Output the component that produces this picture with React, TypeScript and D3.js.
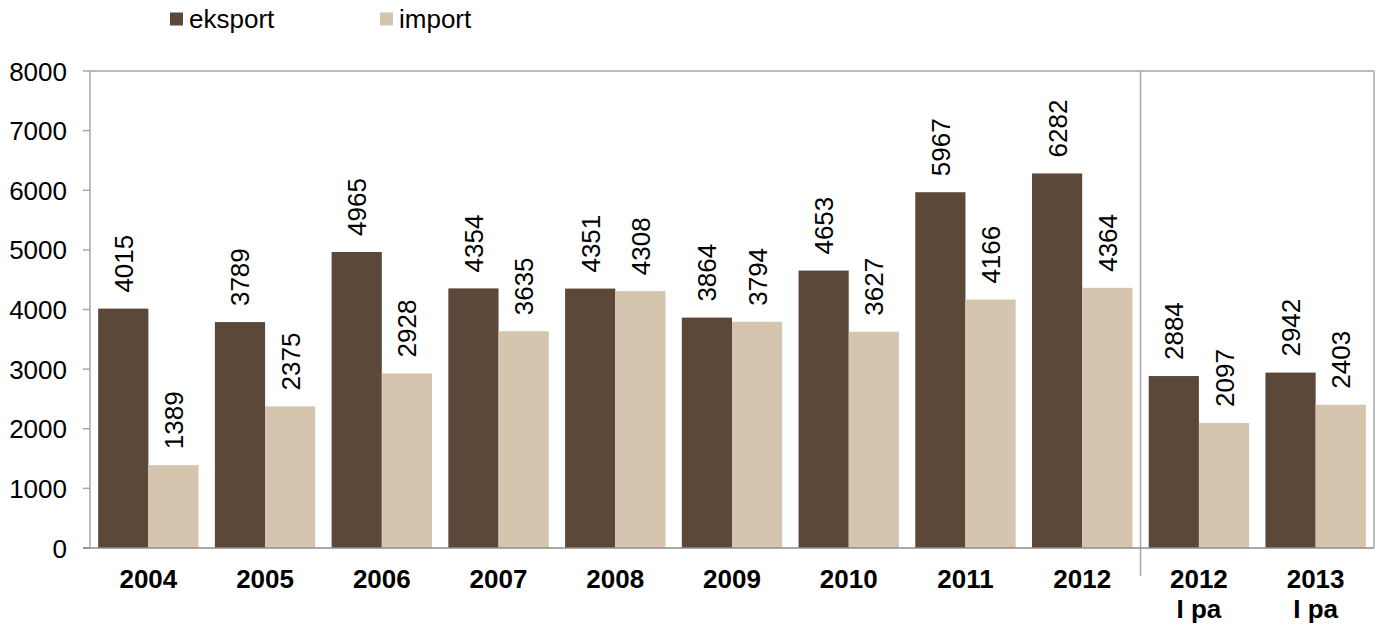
import React from "react";
import * as d3 from "d3";

const categories = ["2004", "2005", "2006", "2007", "2008", "2009", "2010", "2011", "2012", "2012\nI pa", "2013\nI pa"];
const eksport = [4015, 3789, 4965, 4354, 4351, 3864, 4653, 5967, 6282, 2884, 2942];
const importV = [1389, 2375, 2928, 3635, 4308, 3794, 3627, 4166, 4364, 2097, 2403];
const yTicks = [0, 1000, 2000, 3000, 4000, 5000, 6000, 7000, 8000];
const seriesNames = ["eksport", "import"];
const colors = ["#5C4838", "#D5C4AE"];

export default function App() {
  const W = 1381, H = 629;
  const left = 90, right = 1374, top = 71, bottom = 548;
  const x = d3.scaleBand().domain(categories).range([left, right]).paddingInner(0.14).paddingOuter(0.07);
  const y = d3.scaleLinear().domain([0, 8000]).range([bottom, top]);
  const bw = x.bandwidth() / 2;
  const full = d3.scaleBand().domain(categories).range([left, right]);
  const sepX = (full(categories[9]) as number);
  const font = "'Liberation Sans', Arial, sans-serif";
  const series = [eksport, importV];
  return (
    <svg width={W} height={H} style={{ position: "absolute", left: 0, top: 0 }} fontFamily={font}>
      {/* legend */}
      {seriesNames.map((n, i) => (
        <g key={n} transform={`translate(${170 + i * 210},0)`}>
          <rect x={0} y={12.5} width={13} height={13} fill={colors[i]} />
          <text x={19} y={28} fontSize={26} fill="#000">{n}</text>
        </g>
      ))}
      {/* plot border */}
      <line x1={left} x2={right} y1={top} y2={top} stroke="#A6A6A6" strokeWidth={1.5} />
      <line x1={right} x2={right} y1={top} y2={bottom} stroke="#A6A6A6" strokeWidth={1.5} />
      <line x1={sepX} x2={sepX} y1={top} y2={bottom + 28} stroke="#A6A6A6" strokeWidth={1.5} />
      {/* bars */}
      {categories.map((c, ci) =>
        series.map((s, si) => {
          const bx = (x(c) as number) + si * bw;
          const v = s[ci];
          return (
            <g key={c + si}>
              <rect x={bx} y={y(v)} width={bw} height={bottom - y(v)} fill={colors[si]} />
              <text
                transform={`translate(${bx + bw / 2 + 9.5},${y(v) - 16}) rotate(-90)`}
                fontSize={26}
                fill="#000"
              >{v}</text>
            </g>
          );
        })
      )}
      {/* y axis */}
      <line x1={left} x2={left} y1={top} y2={bottom} stroke="#A6A6A6" strokeWidth={1.5} />
      {yTicks.map((t) => (
        <g key={t}>
          <line x1={left - 7} x2={left} y1={y(t)} y2={y(t)} stroke="#A6A6A6" strokeWidth={1.5} />
          <text x={67} y={y(t) + 9.5} fontSize={26} textAnchor="end" fill="#000">{t}</text>
        </g>
      ))}
      {/* x axis */}
      <line x1={left - 7} x2={right} y1={bottom} y2={bottom} stroke="#8C8C8C" strokeWidth={1.5} />
      {categories.map((c) => {
        const cx = (full(c) as number) + full.bandwidth() / 2;
        return c.split("\n").map((ln, li) => (
          <text key={c + li} x={cx} y={588 + li * 30} fontSize={26} fontWeight="bold" textAnchor="middle" fill="#000">{ln}</text>
        ));
      })}
    </svg>
  );
}
